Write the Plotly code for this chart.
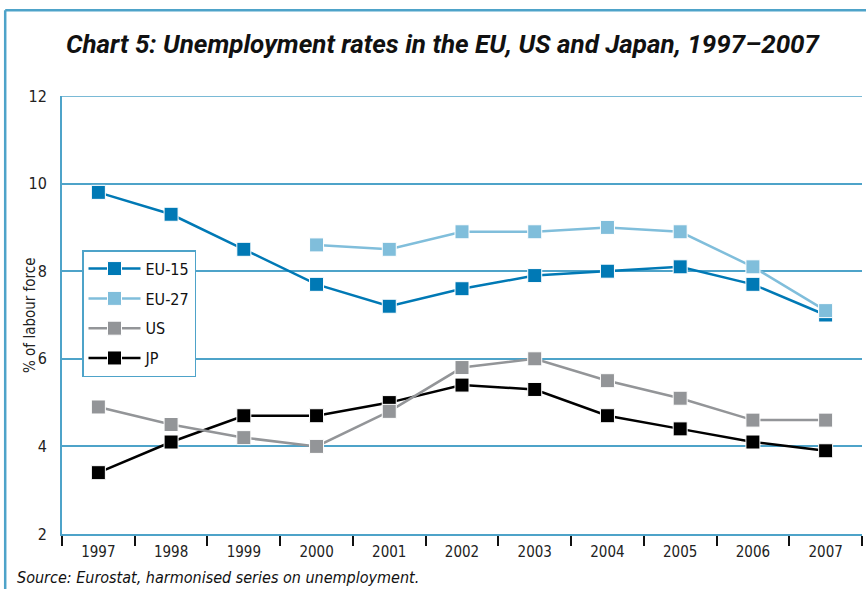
import plotly.graph_objects as go

years = ['1997', '1998', '1999', '2000', '2001', '2002', '2003', '2004', '2005', '2006', '2007']
eu15 = [9.8, 9.3, 8.5, 7.7, 7.2, 7.6, 7.9, 8.0, 8.1, 7.7, 7.0]
eu27 = [None, None, None, 8.6, 8.5, 8.9, 8.9, 9.0, 8.9, 8.1, 7.1]
us = [4.9, 4.5, 4.2, 4.0, 4.8, 5.8, 6.0, 5.5, 5.1, 4.6, 4.6]
jp = [3.4, 4.1, 4.7, 4.7, 5.0, 5.4, 5.3, 4.7, 4.4, 4.1, 3.9]

FONT = 'DejaVu Sans Condensed, Roboto, sans-serif'
TITLE_FONT = 'Roboto, sans-serif'
GRID = '#4ea3c9'

series = [
    # drawn in this order, legend order kept with legendrank
    ('JP', jp, '#000000', 4),
    ('US', us, '#939598', 3),
    ('EU-15', eu15, '#0079b5', 1),
    ('EU-27', eu27, '#80bedb', 2),
]

fig = go.Figure()
for name, vals, color, rank in series:
    fig.add_trace(go.Scatter(
        x=years, y=vals, name=name,
        mode='lines+markers',
        line=dict(color=color, width=2.5),
        marker=dict(symbol='square', size=14, color=color,
                    line=dict(color='white', width=1)),
        legendrank=rank, legendgroup=name,
    ))

fig.update_layout(
    width=866, height=589,
    margin=dict(l=62, r=4, t=96, b=55),
    plot_bgcolor='white', paper_bgcolor='white',
    font=dict(family=FONT, size=14, color='#222222'),
    title=dict(
        text='Chart 5: Unemployment rates in the EU, US and Japan, 1997\u20132007',
        x=0.511, xref='container', xanchor='center', y=0.925, yanchor='middle',
        font=dict(family=TITLE_FONT, size=26, color='#111111', weight='bold', style='italic'),
    ),
    showlegend=True,
    legend=dict(
        x=0.025, y=0.648, xanchor='left', yanchor='top',
        bgcolor='white', bordercolor=GRID, borderwidth=1.5,
        font=dict(family=FONT, size=16, color='#111111'),
        itemwidth=52, tracegroupgap=6,
    ),
    shapes=[
        dict(type='line', xref='paper', yref='paper', x0=-0.071, x1=1.01,
             y0=1.196, y1=1.196, line=dict(color=GRID, width=2.5)),
        dict(type='line', xref='paper', yref='paper', x0=-0.071, x1=-0.071,
             y0=-0.15, y1=1.196, line=dict(color=GRID, width=2.5)),
    ],
    annotations=[
        dict(text='Source: Eurostat, harmonised series on unemployment.',
             xref='paper', yref='paper', x=-0.059, y=-0.1,
             xanchor='left', yanchor='middle', showarrow=False,
             font=dict(family=FONT, size=16, color='#111111', style='italic')),
        dict(text='% of labour force', textangle=-90,
             xref='paper', yref='paper', x=-0.04, y=0.5,
             xanchor='center', yanchor='middle', showarrow=False,
             font=dict(family=FONT, size=15, color='#222222')),
    ],
)

fig.update_xaxes(
    type='category', range=[-0.5, 10.5], automargin=False,
    showline=True, linecolor=GRID, linewidth=2,
    showgrid=False, tickson='boundaries',
    ticks='outside', ticklen=10, tickcolor='#111111', tickwidth=1.5,
    ticklabelstandoff=3,
    tickfont=dict(size=15, color='#222222'),
)
fig.update_yaxes(
    range=[2, 12], dtick=2, automargin=False,
    showline=True, linecolor=GRID, linewidth=2,
    showgrid=True, gridcolor=GRID, gridwidth=1.5,
    zeroline=False, ticks='', ticklabelstandoff=10,
    tickfont=dict(size=16, color='#222222'),
)
# top border line at 12
fig.add_hline(y=12, line=dict(color=GRID, width=1.5))

# page body has a default 8px margin; drop it so the figure fills the window
fig.write_html('out.html', config={'displayModeBar': False},
               post_script="document.body.style.margin='0';")
